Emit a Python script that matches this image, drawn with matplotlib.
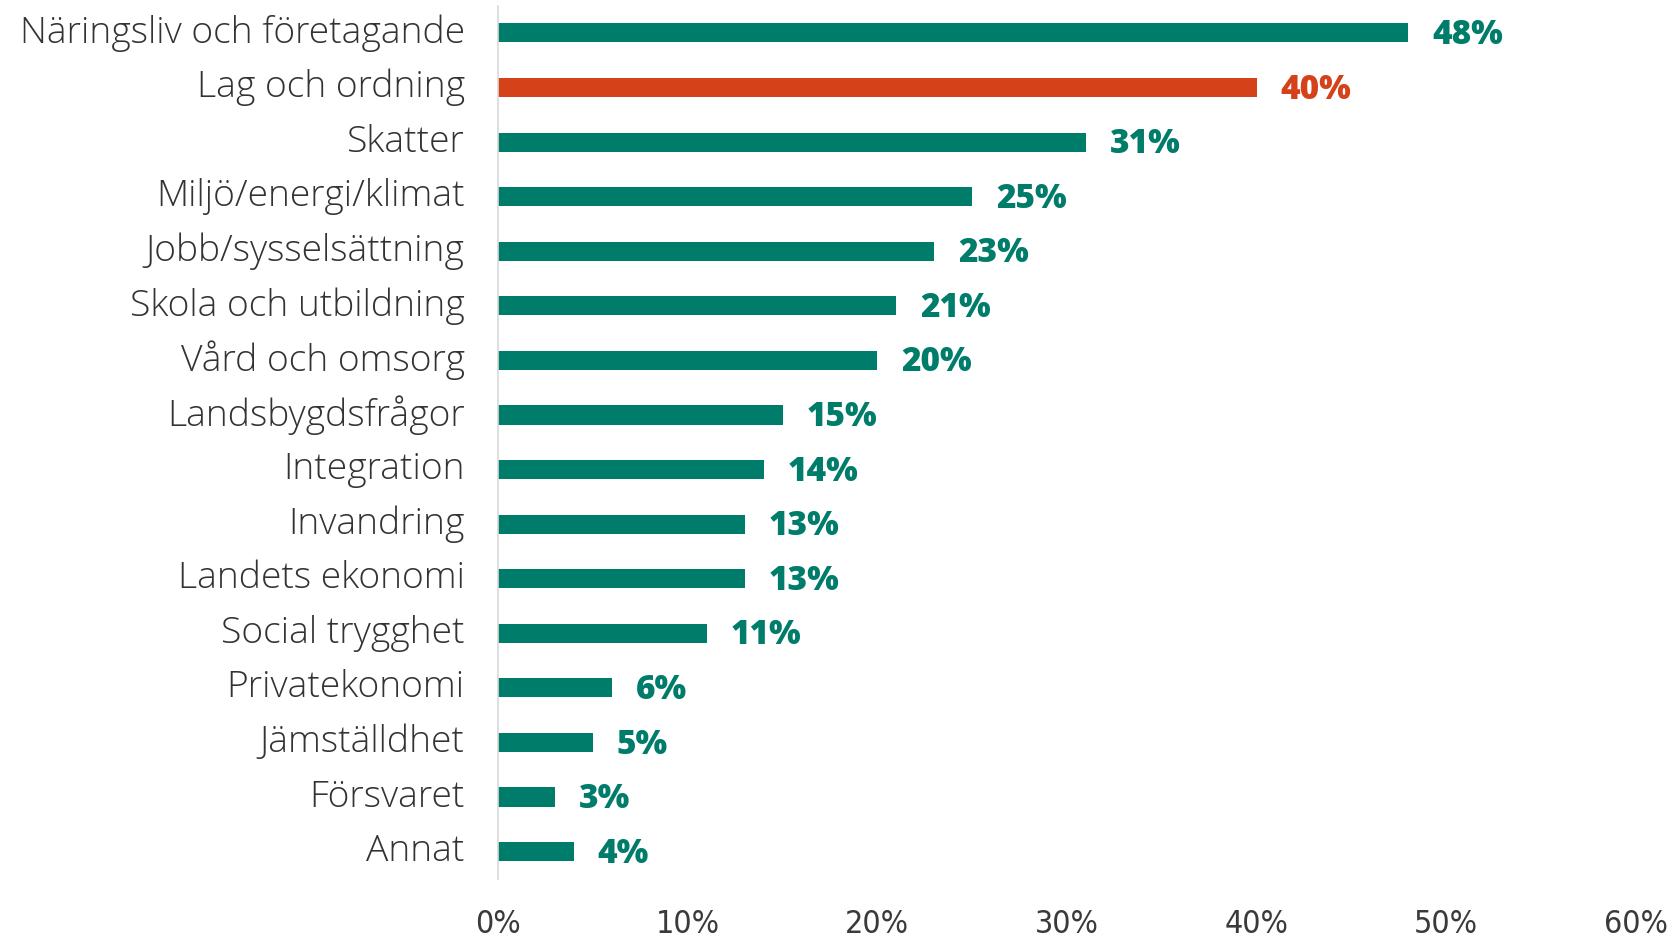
import numpy as np
import matplotlib.pyplot as plt
from matplotlib.ticker import PercentFormatter

kategorier = ['Näringsliv och företagande', 'Lag och ordning', 'Skatter', 'Miljö/energi/klimat',
              'Jobb/sysselsättning', 'Skola och utbildning', 'Vård och omsorg', 'Landsbygdsfrågor',
              'Integration', 'Invandring', 'Landets ekonomi', 'Social trygghet', 'Privatekonomi',
              'Jämställdhet', 'Försvaret', 'Annat']
andel = [48, 40, 31, 25, 23, 21, 20, 15, 14, 13, 13, 11, 6, 5, 3, 4]
markerad = 'Lag och ordning'

gron = '#007c6b'
orange = '#d5421a'

fig = plt.figure(figsize=(16.77, 9.4), dpi=100)
ax = fig.add_axes([0.297, 0.065, 0.6785, 0.929])

y = np.arange(len(kategorier))
farger = [orange if k == markerad else gron for k in kategorier]
ax.barh(y, andel, height=0.35, color=farger)

for yi, v, c in zip(y, andel, farger):
    ax.annotate(f'{v}%', (v, yi), xytext=(17, -1.5), textcoords='offset points',
                va='center', ha='left', fontsize=24, fontweight=800,
                color=c, family='Open Sans')

ax.set_ylim(len(kategorier) - 0.5, -0.5)
ax.set_xlim(0, 60)
ax.set_xticks(np.arange(0, 61, 10))
ax.xaxis.set_major_formatter(PercentFormatter(decimals=0))
ax.set_yticks(y)
ax.set_yticklabels(kategorier, fontsize=26.8, color='#333333', family='Open Sans',
                   fontweight='light', va='center')
for lab in ax.get_xticklabels():
    lab.set_fontsize(23)
    lab.set_color('#3a3a3a')
    lab.set_family('DejaVu Sans')
    lab.set_fontstretch('condensed')
ax.tick_params(axis='y', length=0, pad=24)
ax.tick_params(axis='x', length=0, pad=22)

for s in ['top', 'right', 'bottom']:
    ax.spines[s].set_visible(False)
ax.spines['left'].set_color('#d9d9d9')
ax.spines['left'].set_linewidth(1.2)

fig.savefig('out.png', dpi=100)
